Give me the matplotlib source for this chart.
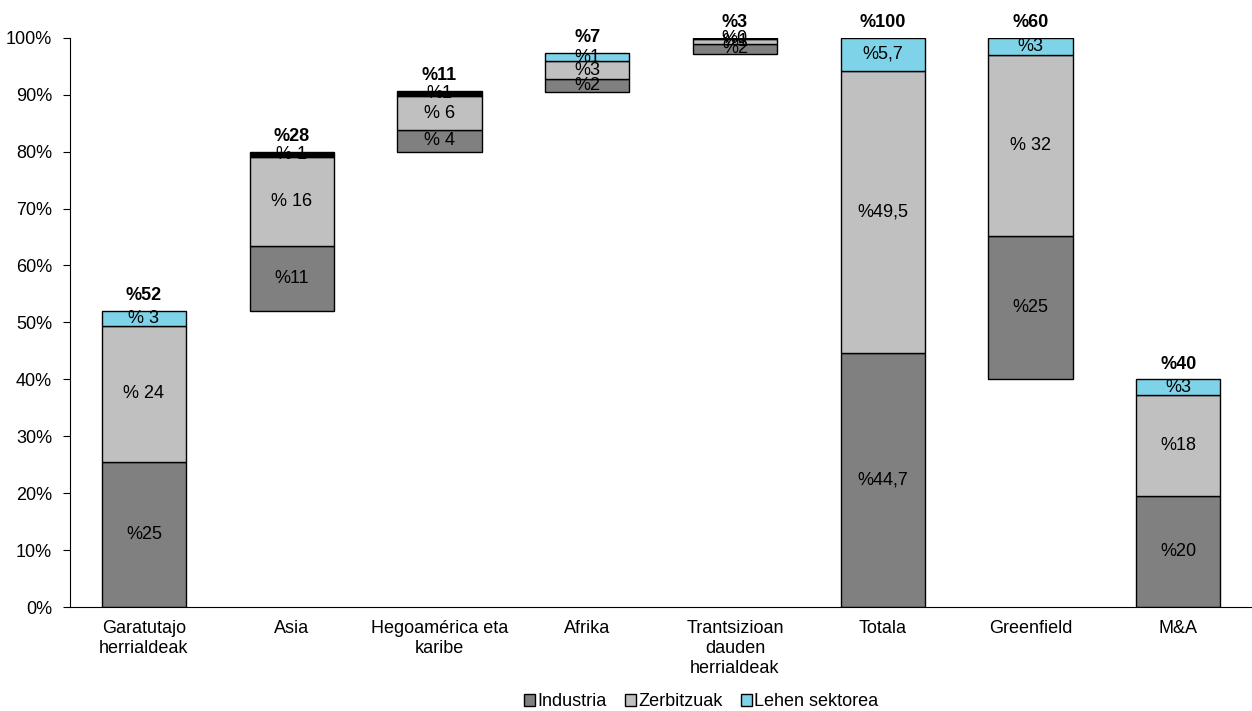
import numpy as np
import matplotlib.pyplot as plt
from matplotlib.ticker import PercentFormatter

plt.rcParams['font.family'] = ['Liberation Sans', 'DejaVu Sans']

# Data
categories = ['Garatutajo\nherrialdeak', 'Asia', 'Hegoamérica eta\nkaribe', 'Afrika',
              'Trantsizioan\ndauden\nherrialdeak', 'Totala', 'Greenfield', 'M&A']
base = [0, 52, 80, 90.5, 97.2, 0, 40, 0]
industria = [25.5, 11.4, 3.8, 2.2, 1.7, 44.7, 25.2, 19.5]
zerbitzuak = [23.9, 15.7, 5.9, 3.2, 0.8, 49.5, 31.8, 17.7]
lehen = [2.6, 0.8, 0.9, 1.4, 0.3, 5.8, 3.0, 2.8]
lab_ind = ['%25', '%11', '% 4', '%2', '%2', '%44,7', '%25', '%20']
lab_zer = ['% 24', '% 16', '% 6', '%3', '%1', '%49,5', '% 32', '%18']
lab_leh = ['% 3', '% 1', '%1', '%1', '%0', '%5,7', '%3', '%3']
totals = ['%52', '%28', '%11', '%7', '%3', '%100', '%60', '%40']

c_ind = '#808080'
c_zer = '#c0c0c0'
c_leh = '#7fd3e8'
leh_colors = [c_leh, 'black', 'black', c_leh, 'black', c_leh, c_leh, c_leh]

fig = plt.figure(figsize=(12.52, 7.11), dpi=100)
ax = fig.add_axes([0.056, 0.146, 0.944, 0.801])

x = np.arange(len(categories))
w = 0.57
b = np.array(base, dtype=float)
ind = np.array(industria)
zer = np.array(zerbitzuak)
leh = np.array(lehen)

ax.bar(x, ind, w, bottom=b, color=c_ind, edgecolor='black', linewidth=1, label='Industria')
ax.bar(x, zer, w, bottom=b + ind, color=c_zer, edgecolor='black', linewidth=1, label='Zerbitzuak')
ax.bar(x, leh, w, bottom=b + ind + zer, color=leh_colors, edgecolor='black', linewidth=1,
       label='Lehen sektorea')

fs = 13
for i in range(len(x)):
    ax.text(x[i], b[i] + ind[i] / 2, lab_ind[i], ha='center', va='center', fontsize=fs)
    ax.text(x[i], b[i] + ind[i] + zer[i] / 2, lab_zer[i], ha='center', va='center', fontsize=fs)
    ax.text(x[i], b[i] + ind[i] + zer[i] + leh[i] / 2, lab_leh[i], ha='center', va='center', fontsize=fs)
    top = b[i] + ind[i] + zer[i] + leh[i]
    ax.text(x[i], top + 1.2, totals[i], ha='center', va='bottom', fontsize=fs, fontweight='bold')

ax.set_xlim(-0.5, 7.5)
ax.set_ylim(0, 100)
ax.set_yticks(np.arange(0, 101, 10))
ax.yaxis.set_major_formatter(PercentFormatter(decimals=0))
ax.set_xticks(x)
ax.set_xticklabels(categories, fontsize=fs, linespacing=1.25)
ax.tick_params(axis='x', length=0, pad=9)
ax.tick_params(axis='y', labelsize=fs, length=5, direction='out', pad=8)
ax.spines['top'].set_visible(False)
ax.spines['right'].set_visible(False)

h, l = ax.get_legend_handles_labels()
h[2] = plt.Rectangle((0, 0), 1, 1, facecolor=c_leh, edgecolor='black')
fig.legend(h, l, loc='lower center', bbox_to_anchor=(0.56, -0.022), ncol=3, frameon=False,
           fontsize=fs, handlelength=0.6, handleheight=0.6, handletextpad=0.15, columnspacing=1.0)

fig.savefig('out.png', dpi=100)
